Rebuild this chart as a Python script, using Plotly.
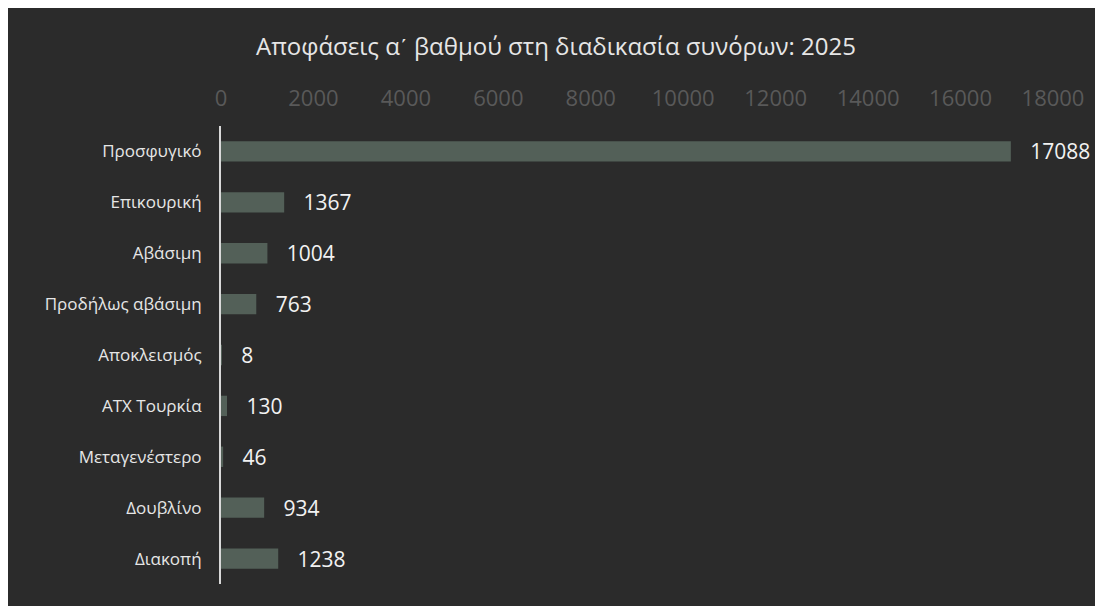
import plotly.graph_objects as go

categories = ["Προσφυγικό", "Επικουρική", "Αβάσιμη", "Προδήλως αβάσιμη", "Αποκλεισμός",
              "ATX Τουρκία", "Μεταγενέστερο", "Δουβλίνο", "Διακοπή"]
values = [17088, 1367, 1004, 763, 8, 130, 46, 934, 1238]
tick_vals = [0, 2000, 4000, 6000, 8000, 10000, 12000, 14000, 16000, 18000]
tick_text = [str(v) for v in tick_vals]

FONT = "Open Sans"

fig = go.Figure(go.Bar(
    x=values, y=categories, orientation="h",
    marker=dict(color="#536058", line=dict(width=0)),
    width=0.4,
    text=[str(v) for v in values],
    texttemplate="\u00a0\u00a0\u00a0%{text}",
    textposition="outside",
    constraintext="none",
    textfont=dict(family=FONT, size=21, color="#f2f2f2"),
    cliponaxis=False,
))

fig.update_layout(
    width=1096, height=598,
    paper_bgcolor="#2b2b2b", plot_bgcolor="#2b2b2b",
    margin=dict(l=213, r=51, t=118, b=22),
    title=dict(text="Αποφάσεις α\u0374 βαθμού στη διαδικασία συνόρων: 2025",
               x=0.5, xanchor="center", y=1 - 39/598, yanchor="middle",
               font=dict(family=FONT, size=24, color="#e6e6e6")),
    showlegend=False,
    xaxis=dict(side="top", range=[0, 18000], tickvals=tick_vals, ticktext=tick_text,
               showgrid=False, zeroline=False, showline=False, ticks="",
               ticklabelstandoff=15,
               tickfont=dict(family=FONT, size=22, color="#595959")),
    yaxis=dict(categoryorder="array", categoryarray=categories, autorange="reversed",
               showgrid=False, zeroline=False, showline=True, linecolor="#d9d9d9", linewidth=2,
               ticks="", ticklabelstandoff=14,
               tickfont=dict(family=FONT, size=17, color="#e6e6e6")),
)

fig.write_html("out.html")
